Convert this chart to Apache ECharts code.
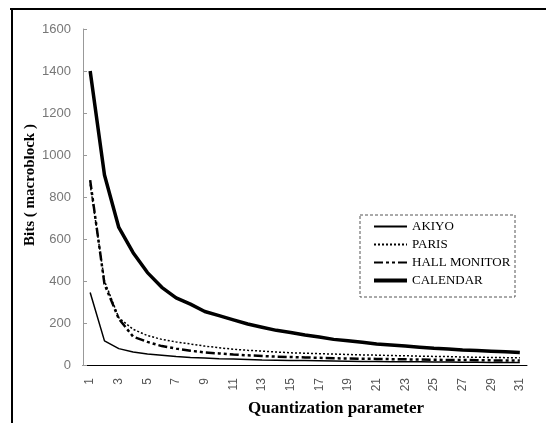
<!DOCTYPE html>
<html><head><meta charset="utf-8">
<script src="https://cdn.jsdelivr.net/npm/echarts@6/dist/echarts.min.js"></script>
<style>html,body{margin:0;padding:0;background:#fff}#c{width:546px;height:423px}</style>
</head><body><div id="c"></div>
<script>
var categories = [];
for (var q = 1; q <= 31; q++) categories.push(String(q));
var yTicks = [0, 200, 400, 600, 800, 1000, 1200, 1400, 1600];
var akiyo = [345, 115, 78, 62, 52, 46, 40, 36, 33, 30, 28, 26, 24, 23, 22, 21, 20, 19, 18, 17, 17, 16, 15, 15, 14, 14, 13, 13, 12, 12, 12];
var paris = [860, 400, 225, 170, 140, 122, 110, 100, 90, 82, 75, 70, 66, 62, 58, 56, 54, 52, 50, 48, 47, 45, 44, 42, 41, 40, 38, 37, 36, 35, 34];
var hall = [880, 385, 220, 135, 110, 90, 78, 68, 60, 55, 50, 46, 43, 40, 38, 36, 34, 32, 31, 30, 29, 28, 27, 26, 25, 24, 24, 23, 22, 22, 21];
var calendar = [1400, 905, 655, 535, 440, 370, 320, 290, 255, 235, 215, 195, 180, 165, 155, 143, 133, 122, 115, 108, 100, 95, 90, 85, 80, 76, 72, 69, 66, 63, 60];

var chart = echarts.init(document.getElementById('c'), null, {renderer: 'canvas'});
var serif = '"Liberation Serif", "Times New Roman", serif';
chart.setOption({
  animation: false,
  backgroundColor: '#fff',
  grid: {left: 83, right: 19, top: 29, bottom: 58},
  legend: {
    orient: 'vertical', left: 372, top: 220, padding: 0,
    itemWidth: 33, itemHeight: 14, itemGap: 5,
    itemStyle: {opacity: 0},
    textStyle: {fontFamily: serif, fontSize: 13, color: '#000'},
    data: ['AKIYO', 'PARIS', 'HALL MONITOR', {name: 'CALENDAR', lineStyle: {width: 4}}]
  },
  xAxis: {
    type: 'category', data: categories, boundaryGap: true,
    axisLine: {lineStyle: {color: '#000', width: 1}},
    axisTick: {inside: true, length: 4, lineStyle: {color: '#000'}},
    axisLabel: {rotate: 90, interval: 1, margin: 13, fontFamily: '"Liberation Sans", Arial, sans-serif', fontSize: 12, color: '#555'}
  },
  yAxis: {
    type: 'value', min: 0, max: 1600, interval: 200,
    axisLine: {show: true, lineStyle: {color: '#999', width: 1}},
    axisTick: {show: true, inside: true, length: 4, lineStyle: {color: '#999'}},
    splitLine: {show: false},
    axisLabel: {fontFamily: '"Liberation Sans", Arial, sans-serif', fontSize: 13, color: '#777', margin: 12,
      formatter: function (v) { return yTicks.indexOf(v) >= 0 ? String(v) : ''; }}
  },
  graphic: [
    {type: 'line', shape: {x1: 10, y1: 9, x2: 546, y2: 9}, style: {stroke: '#000', lineWidth: 2}},
    {type: 'line', shape: {x1: 12, y1: 9, x2: 12, y2: 423}, style: {stroke: '#000', lineWidth: 2}},
    {type: 'rect', shape: {x: 360, y: 215, width: 155, height: 82}, style: {fill: 'none', stroke: '#555', lineWidth: 1, lineDash: [3, 2]}, z: 0},
    {type: 'text', left: 248, top: 400, style: {text: 'Quantization parameter', font: 'bold 17px ' + serif, fill: '#000'}},
    {type: 'text', x: 30, y: 185, rotation: Math.PI / 2,
      style: {text: 'Bits ( macroblock )', font: 'bold 15px ' + serif, fill: '#000', align: 'center', verticalAlign: 'middle'}}
  ],
  series: [
    {name: 'AKIYO', type: 'line', data: akiyo, symbol: 'none', lineStyle: {color: '#000', width: 1.5}, itemStyle: {color: '#000'}},
    {name: 'PARIS', type: 'line', data: paris, symbol: 'none', lineStyle: {color: '#000', width: 1.5, type: [2, 2]}, itemStyle: {color: '#000'}},
    {name: 'HALL MONITOR', type: 'line', data: hall, symbol: 'none', lineStyle: {color: '#000', width: 2.5, type: [9, 3, 3, 3, 3, 3]}, itemStyle: {color: '#000'}},
    {name: 'CALENDAR', type: 'line', data: calendar, symbol: 'none', lineStyle: {color: '#000', width: 3.5}, itemStyle: {color: '#000'}}
  ]
});
</script></body></html>
